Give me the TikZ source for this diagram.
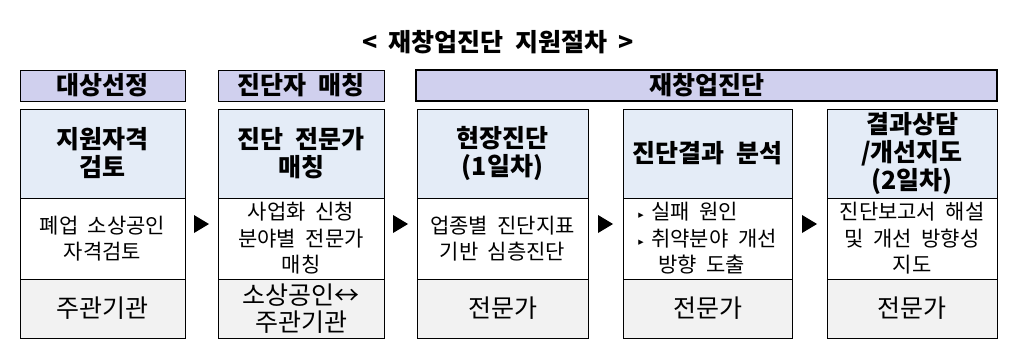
\documentclass[tikz,border=0pt]{standalone}
\usepackage{fontspec}
\setmainfont[WordSpace=2.0]{Noto Sans CJK KR}
\newfontfamily\bulfont{DejaVu Sans}
\usetikzlibrary{calc}
\definecolor{hdrfill}{RGB}{208,208,238}
\definecolor{ttlfill}{RGB}{228,236,247}
\definecolor{botfill}{RGB}{242,242,242}
\tikzset{
 box/.style={draw, line width=0.9pt, inner sep=0pt, align=center},
 hdr/.style={box, fill=hdrfill, minimum height=31, font=\fontsize{25}{27}\selectfont\bfseries},
 ttl/.style={box, fill=ttlfill, minimum height=89, font=\fontsize{25}{28}\selectfont\bfseries},
 mid/.style={box, fill=white, minimum height=81, font=\fontsize{21}{26.5}\selectfont},
 bot/.style={box, fill=botfill, minimum height=59, font=\fontsize{25}{27}\selectfont},
 tri/.style={fill=black},
}
\newcommand{\bul}{\makebox[13pt][l]{\raisebox{2pt}{\bulfont\fontsize{7}{7}\selectfont ▶}}}
\begin{document}
\begin{tikzpicture}[x=1pt,y=-1pt]
\useasboundingbox (0,0) rectangle (1012,356);
\node[font=\fontsize{25}{27}\selectfont\bfseries] (title) at (498,42) {< 재창업진단 지원절차 >};
% headers
\node[hdr, minimum width=165] (h1) at (102.5,85.5) {대상선정};
\node[hdr, minimum width=166] (h2) at (301,85.5) {진단자 매칭};
\node[hdr, minimum width=581, line width=2.5pt] (h3) at (706.5,85.5) {재창업진단};
% column 1
\node[ttl, minimum width=165] (t1) at (102.5,153.5) {지원자격\\검토};
\node[mid, minimum width=165] (m1) at (102.5,238.5) {폐업 소상공인\\자격검토};
\node[bot, minimum width=165] (b1) at (102.5,308.5) {주관기관};
% column 2
\node[ttl, minimum width=166] (t2) at (301,153.5) {진단 전문가\\매칭};
\node[mid, minimum width=166] (m2) at (301,238.5) {사업화 신청\\분야별 전문가\\매칭};
\node[bot, minimum width=166] (b2) at (301,308.5) {소상공인↔\\주관기관};
% column 3
\node[ttl, minimum width=171] (t3) at (502.5,153.5) {현장진단\\(1일차)};
\node[mid, minimum width=171] (m3) at (502.5,238.5) {업종별 진단지표\\기반 심층진단};
\node[bot, minimum width=171] (b3) at (502.5,308.5) {전문가};
% column 4
\node[ttl, minimum width=169] (t4) at (707.5,153.5) {진단결과 분석};
\node[mid, minimum width=169, align=left] (m4) at (707.5,238.5) {\bul 실패 원인\\\bul 취약분야 개선\\\hspace*{20pt}방향 도출};
\node[bot, minimum width=169] (b4) at (707.5,308.5) {전문가};
% column 5
\node[ttl, minimum width=170] (t5) at (912,153.5) {결과상담\\/개선지도\\(2일차)};
\node[mid, minimum width=170] (m5) at (912,238.5) {진단보고서 해설\\및 개선 방향성\\지도};
\node[bot, minimum width=170] (b5) at (912,308.5) {전문가};
% arrows
\foreach \a/\b [count=\i] in {m1/m2,m2/m3,m3/m4,m4/m5}{
  \coordinate (a\i) at ($(\a.east)!0.5!(\b.west)+(0,-14.5)$);
  \fill[tri] ($(a\i)+(-7.5,-9)$) -- ($(a\i)+(7.5,0)$) -- ($(a\i)+(-7.5,9)$) -- cycle;
}
\end{tikzpicture}
\end{document}
